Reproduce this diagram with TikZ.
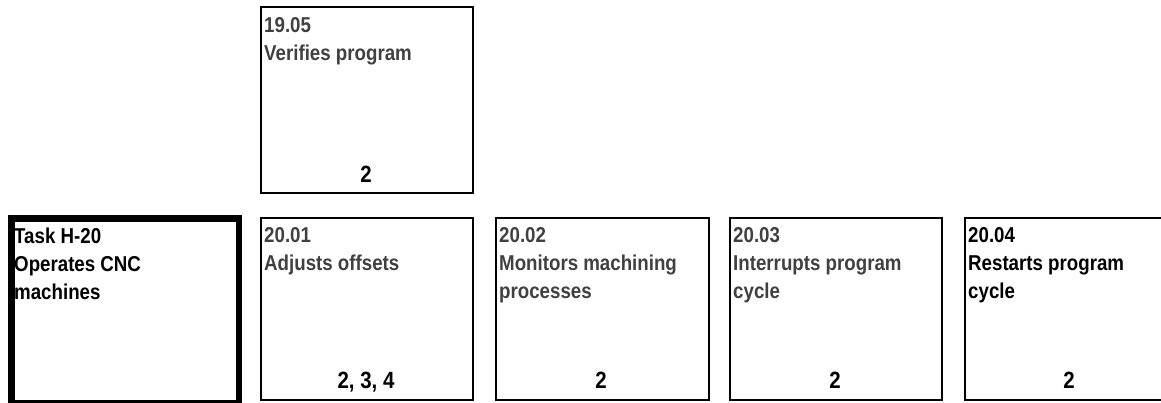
\documentclass[tikz,border=0pt]{standalone}
\usepackage{fontspec}
\setmainfont{Liberation Sans}[FakeStretch=0.87]
\definecolor{txtgray}{HTML}{404040}
\tikzset{
  cellbox/.style={draw=black,line width=2pt,inner sep=0pt,anchor=north west},
  taskbox/.style={draw=black,line width=6.5pt,inner sep=0pt,anchor=north west},
  title/.style={inner sep=0pt,anchor=north west,align=left,
    font=\fontsize{21.5}{28}\selectfont\bfseries},
  num/.style={inner sep=0pt,anchor=base,font=\fontsize{23.5}{26}\selectfont\bfseries,text=black}
}
\begin{document}
\begin{tikzpicture}[x=1pt,y=-1pt]
\useasboundingbox (0,0) rectangle (1161,403);
\clip (0,0) rectangle (1161,403);
% boxes
\node[cellbox,minimum width=212pt,minimum height=186pt] (b1905) at (260,6) {};
\node[taskbox,minimum width=227.5pt,minimum height=184.5pt] (task) at (8.25,215.25) {};
\node[cellbox,minimum width=212pt,minimum height=182pt] (b2001) at (260,217) {};
\node[cellbox,minimum width=213pt,minimum height=182pt] (b2002) at (495,217) {};
\node[cellbox,minimum width=212pt,minimum height=182pt] (b2003) at (729,217) {};
\node[cellbox,minimum width=212pt,minimum height=182pt] (b2004) at (964,217) {};
% titles
\node[title,text=txtgray] (t1905) at (264,12.4) {\strut 19.05\\Verifies program};
\node[title,text=black] (ttask) at (14,223.4) {\strut Task H-20\\Operates CNC\\machines};
\node[title,text=txtgray] (t2001) at (264,222.4) {\strut 20.01\\Adjusts offsets};
\node[title,text=txtgray] (t2002) at (499,222.4) {\strut 20.02\\Monitors machining\\processes};
\node[title,text=txtgray] (t2003) at (733,222.4) {\strut 20.03\\Interrupts program\\cycle};
\node[title,text=black] (t2004) at (968,222.4) {\strut 20.04\\Restarts program\\cycle};
% numbers
\node[num] (n1905) at (366,183) {2};
\node[num] (n2001) at (366,388) {2, 3, 4};
\node[num] (n2002) at (601,388) {2};
\node[num] (n2003) at (835,388) {2};
\node[num] (n2004) at (1069,388) {2};
\end{tikzpicture}
\end{document}
